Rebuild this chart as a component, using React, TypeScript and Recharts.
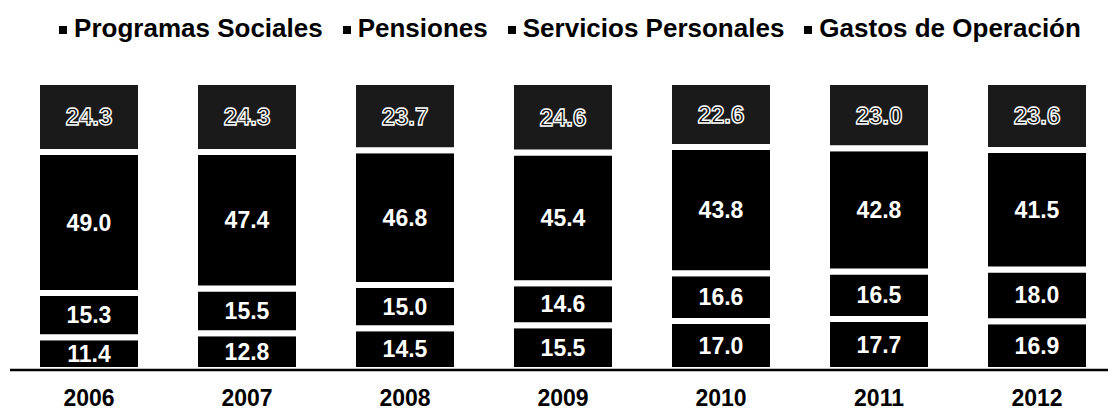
import React from 'react';
import { BarChart, Bar, XAxis, YAxis, Legend, LabelList } from 'recharts';

// Participación (%) del gasto por año
const years = ['2006', '2007', '2008', '2009', '2010', '2011', '2012'];
const programasSociales = [11.4, 12.8, 14.5, 15.5, 17.0, 17.7, 16.9];
const pensiones = [15.3, 15.5, 15.0, 14.6, 16.6, 16.5, 18.0];
const serviciosPersonales = [49.0, 47.4, 46.8, 45.4, 43.8, 42.8, 41.5];
const gastosOperacion = [24.3, 24.3, 23.7, 24.6, 22.6, 23.0, 23.6];

const seriesNames = ['Programas Sociales', 'Pensiones', 'Servicios Personales', 'Gastos de Operación'];

const data = years.map((year, i) => ({
  year,
  programas: programasSociales[i],
  pensiones: pensiones[i],
  servicios: serviciosPersonales[i],
  gastos: gastosOperacion[i],
}));

const FONT = 'Arial, "Liberation Sans", sans-serif';

function LegendRow() {
  return (
    <div
      style={{
        height: 40,
        display: 'flex',
        justifyContent: 'center',
        alignItems: 'center',
        fontFamily: FONT,
        fontWeight: 'bold',
        fontSize: 26,
        color: '#000',
        paddingLeft: 36,
      }}
    >
      {seriesNames.map((name) => (
        <span key={name} style={{ display: 'inline-flex', alignItems: 'center', marginRight: 20 }}>
          <span style={{ width: 8, height: 8, background: '#000', marginRight: 7, marginTop: 3 }} />
          {name}
        </span>
      ))}
    </div>
  );
}

function valueLabel(props: any) {
  const { x, y, width, height, value } = props;
  return (
    <text
      x={x + width / 2}
      y={y + height / 2}
      textAnchor="middle"
      dominantBaseline="central"
      fill="#fff"
      fontFamily={FONT}
      fontWeight="bold"
      fontSize={23}
    >
      {Number(value).toFixed(1)}
    </text>
  );
}

// top segment: outlined digits, as in the original
function outlinedLabel(props: any) {
  const { x, y, width, height, value } = props;
  return (
    <text
      x={x + width / 2}
      y={y + height / 2}
      textAnchor="middle"
      dominantBaseline="central"
      fill="#111"
      stroke="#fff"
      strokeWidth={1.4}
      fontFamily={FONT}
      fontWeight="bold"
      fontSize={24}
    >
      {Number(value).toFixed(1)}
    </text>
  );
}

export default function App() {
  return (
    <BarChart
      width={1108}
      height={402}
      data={data}
      margin={{ top: 34, right: 0, left: 2, bottom: 0 }}
      barCategoryGap={0}
    >
      <Legend verticalAlign="top" content={() => <LegendRow />} wrapperStyle={{ top: 0, left: 0, width: 1108 }} />
      <XAxis
        dataKey="year"
        axisLine={{ stroke: '#000', strokeWidth: 2.5 }}
        tickLine={false}
        tickMargin={14}
        height={40}
        tick={{ fill: '#000', fontFamily: FONT, fontWeight: 'bold', fontSize: 23 }}
      />
      <YAxis hide domain={[0, 100]} allowDataOverflow />
      <Bar dataKey="programas" name={seriesNames[0]} stackId="a" fill="#000" stroke="#fff" strokeWidth={6} barSize={104} isAnimationActive={false}>
        <LabelList dataKey="programas" content={valueLabel} />
      </Bar>
      <Bar dataKey="pensiones" name={seriesNames[1]} stackId="a" fill="#000" stroke="#fff" strokeWidth={6} barSize={104} isAnimationActive={false}>
        <LabelList dataKey="pensiones" content={valueLabel} />
      </Bar>
      <Bar dataKey="servicios" name={seriesNames[2]} stackId="a" fill="#000" stroke="#fff" strokeWidth={6} barSize={104} isAnimationActive={false}>
        <LabelList dataKey="servicios" content={valueLabel} />
      </Bar>
      <Bar dataKey="gastos" name={seriesNames[3]} stackId="a" fill="#1a1a1a" stroke="#fff" strokeWidth={6} barSize={104} isAnimationActive={false}>
        <LabelList dataKey="gastos" content={outlinedLabel} />
      </Bar>
    </BarChart>
  );
}
